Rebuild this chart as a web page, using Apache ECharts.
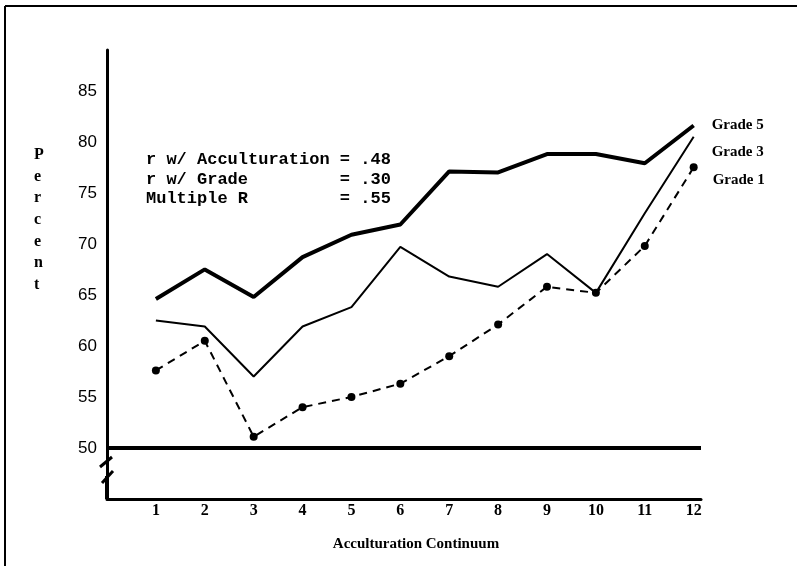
<!DOCTYPE html>
<html>
<head>
<meta charset="utf-8">
<script src="https://cdn.jsdelivr.net/npm/echarts@6/dist/echarts.min.js"></script>
<style>
  html, body { margin: 0; padding: 0; background: #fff; }
  #main { width: 797px; height: 566px; }
</style>
</head>
<body>
<div id="main"></div>
<script>
// acculturation continuum steps
var steps = [1, 2, 3, 4, 5, 6, 7, 8, 9, 10, 11, 12];
// percent by grade
var grade5 = [64.6, 67.5, 64.8, 68.7, 70.9, 71.9, 77.1, 77.0, 78.8, 78.8, 77.9, 81.6];
var grade3 = [62.5, 61.9, 57.0, 61.9, 63.8, 69.7, 66.8, 65.8, 69.0, 65.2, 73.0, 80.5];
var grade1 = [57.6, 60.5, 51.1, 54.0, 55.0, 56.3, 59.0, 62.1, 65.8, 65.2, 69.8, 77.5];
var yTicks = [50, 55, 60, 65, 70, 75, 80, 85];
var statLines = [
  "r w/ Acculturation = .48",
  "r w/ Grade         = .30",
  "Multiple R         = .55"
];

function pairs(vals) {
  return steps.map(function (s, i) { return [s, vals[i]]; });
}

var serif = "'Liberation Serif', 'DejaVu Serif', serif";

var chart = echarts.init(document.getElementById("main"));
chart.setOption({
  animation: false,
  grid: { left: 107, top: 50, width: 594, height: 449 },
  xAxis: {
    type: "value",
    min: 0,
    max: 12.15,
    interval: 1,
    splitLine: { show: false },
    axisTick: { show: false },
    axisLine: { lineStyle: { color: "#000", width: 3 } },
    axisLabel: {
      margin: 4,
      color: "#000",
      fontFamily: serif,
      fontWeight: "bold",
      fontSize: 16,
      formatter: function (v) {
        return steps.indexOf(v) >= 0 ? String(v) : "";
      }
    },
    name: "Acculturation Continuum",
    nameLocation: "middle",
    nameGap: 38,
    nameTextStyle: { color: "#000", fontFamily: serif, fontWeight: "bold", fontSize: 15, padding: [0, 0, 0, 24] }
  },
  yAxis: {
    type: "value",
    min: 45,
    max: 89,
    interval: 5,
    splitLine: { show: false },
    axisTick: { show: false },
    axisLine: { lineStyle: { color: "#000", width: 3 } },
    axisLabel: {
      margin: 10,
      color: "#000",
      fontFamily: "'Liberation Sans', Arial, sans-serif",
      fontSize: 17,
      formatter: function (v) {
        return yTicks.indexOf(v) >= 0 ? String(v) : "";
      }
    }
  },
  series: [
    {
      name: "Grade 5",
      type: "line",
      data: pairs(grade5),
      symbol: "none",
      lineStyle: { color: "#000", width: 4 },
      markLine: {
        silent: true,
        symbol: "none",
        label: { show: false },
        lineStyle: { color: "#000", width: 4, type: "solid" },
        data: [{ yAxis: 50 }]
      },
      endLabel: {
        show: true, formatter: "Grade 5", offset: [10, 0],
        color: "#000", fontFamily: serif, fontWeight: "bold", fontSize: 15
      }
    },
    {
      name: "Grade 3",
      type: "line",
      data: pairs(grade3),
      symbol: "none",
      lineStyle: { color: "#000", width: 2 },
      endLabel: {
        show: true, formatter: "Grade 3", offset: [10, 15],
        color: "#000", fontFamily: serif, fontWeight: "bold", fontSize: 15
      }
    },
    {
      name: "Grade 1",
      type: "line",
      data: pairs(grade1),
      symbol: "circle",
      symbolSize: 8,
      itemStyle: { color: "#000" },
      lineStyle: { color: "#000", width: 2, type: [8, 6] },
      endLabel: {
        show: true, formatter: "Grade 1", offset: [11, 13],
        color: "#000", fontFamily: serif, fontWeight: "bold", fontSize: 15
      }
    }
  ],
  graphic: [
    // scanned page frame (left and top edges)
    { type: "line", shape: { x1: 5, y1: 6, x2: 5, y2: 566 }, style: { stroke: "#000", lineWidth: 2 } },
    { type: "line", shape: { x1: 5, y1: 6, x2: 797, y2: 6 }, style: { stroke: "#000", lineWidth: 2 } },
    // vertical axis title
    {
      type: "text", left: 34, top: 144,
      style: {
        text: "Percent".split("").join("\n"),
        font: "bold 16px " + serif,
        fill: "#000",
        lineHeight: 21.7,
        align: "center"
      }
    },
    // correlation notes
    {
      type: "text", left: 146, top: 150,
      style: {
        text: statLines.join("\n"),
        font: "bold 17px 'Liberation Mono', 'DejaVu Sans Mono', monospace",
        fill: "#000",
        lineHeight: 19.5
      }
    },
    // axis break
    { type: "rect", shape: { x: 101, y: 452, width: 12, height: 30 }, style: { fill: "#fff" } },
    { type: "line", shape: { x1: 100, y1: 467, x2: 112, y2: 457 }, style: { stroke: "#000", lineWidth: 3 } },
    { type: "line", shape: { x1: 102, y1: 483, x2: 113, y2: 471 }, style: { stroke: "#000", lineWidth: 3 } },
    { type: "line", shape: { x1: 106.5, y1: 476, x2: 106.5, y2: 499 }, style: { stroke: "#000", lineWidth: 3 } }
  ]
});
</script>
</body>
</html>
